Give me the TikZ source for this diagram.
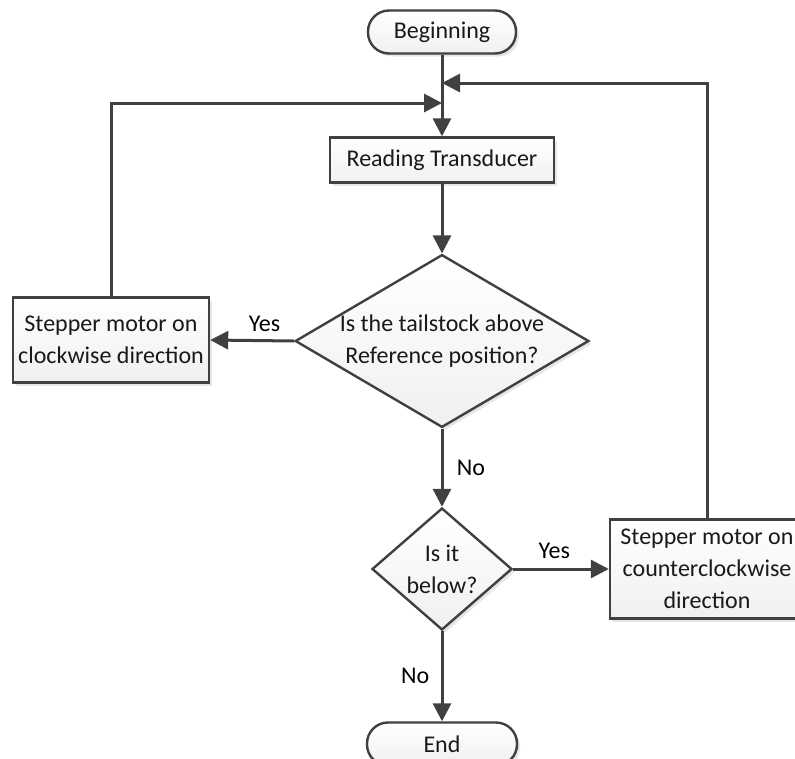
\documentclass[tikz,border=0pt]{standalone}
\usepackage{fontspec}
\setmainfont{Carlito}
\usetikzlibrary{arrows.meta,shapes.geometric,shadows}
\definecolor{linegray}{HTML}{404040}
\definecolor{boxgray}{HTML}{F0F0F0}

\begin{document}
\begin{tikzpicture}[x=1pt, y=-1pt,
    font=\fontsize{24}{32}\selectfont,
    line/.style={draw=linegray, line width=3pt, -{Triangle[length=18pt, width=18pt]}},
    base/.style={draw=linegray, line width=2.4pt, top color=white, bottom color=boxgray,
        drop shadow={shadow xshift=3pt, shadow yshift=-3pt, opacity=0.2, fill=gray},
        text=black!90, align=center},
    term/.style={base, rectangle, rounded corners=21pt},
    proc/.style={base, rectangle},
    dec/.style={base, diamond, inner sep=0pt}
  ]
  \useasboundingbox (0,0) rectangle (795,758);
  \clip (0,0) rectangle (795,758);

  % nodes
  \node[term, minimum width=148pt, minimum height=43pt] (begin) at (442,32) {Beginning};
  \node[proc, minimum width=224pt, minimum height=45pt] (read) at (442,160) {Reading Transducer};
  \node[dec, minimum width=292pt, minimum height=172pt, aspect=1.7] (above) at (442,341)
      {Is the tailstock above\\Reference position?};
  \node[proc, minimum width=196pt, minimum height=85pt] (cw) at (111,340)
      {Stepper motor on\\clockwise direction};
  \node[dec, minimum width=140pt, minimum height=122pt, aspect=1.15] (below) at (442,569)
      {Is it\\below?};
  \node[proc, minimum width=194pt, minimum height=99pt] (ccw) at (707,569)
      {Stepper motor on\\counterclockwise\\direction};
  \node[term, minimum width=150pt, minimum height=43pt] (end) at (442,744) {End};

  % joins on the main line
  \coordinate (jccw) at (442,83);
  \coordinate (jcw) at (442,103);

  % connectors
  \draw[line] (begin) -- (read);
  \draw[line] (read) -- (above);
  \draw[line] (above.west) -- node[above=4pt, pos=0.35] {Yes} (cw.east);
  \draw[line] (above.south) -- node[right=10pt] {No} (below.north);
  \draw[line] (below.east) -- node[above=6pt, pos=0.43] {Yes} (ccw.west);
  \draw[line] (below.south) -- node[left=8pt] {No} (end.north);
  \draw[line] (cw.north) |- (jcw);
  \draw[line] (ccw.north) |- (jccw);
\end{tikzpicture}
\end{document}
